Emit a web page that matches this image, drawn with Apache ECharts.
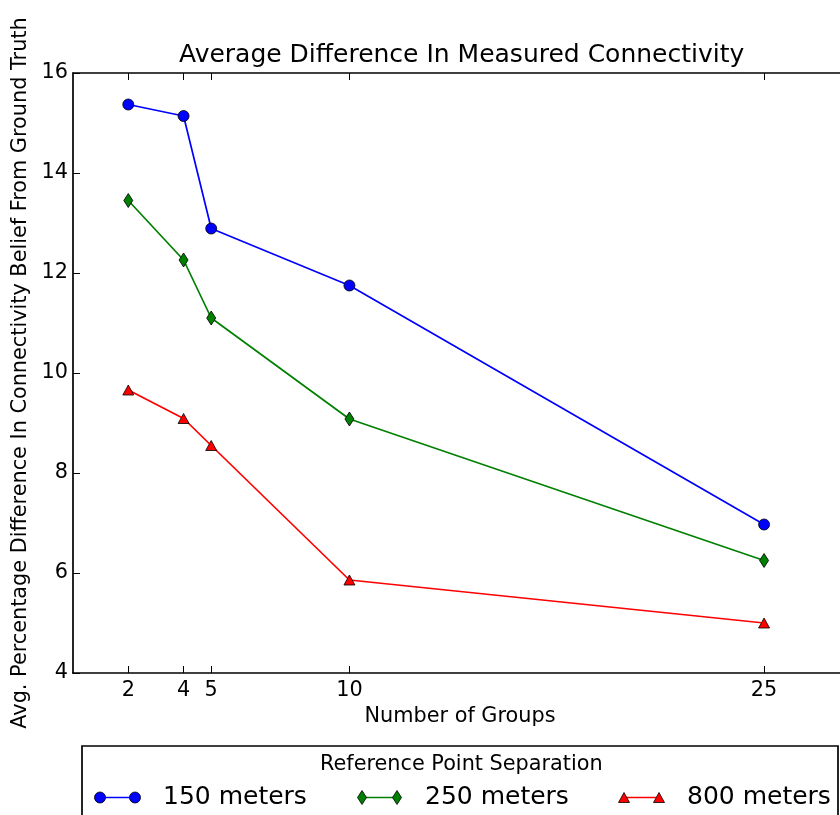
<!DOCTYPE html>
<html>
<head>
<meta charset="utf-8">
<script src="https://cdn.jsdelivr.net/npm/echarts@6/dist/echarts.min.js"></script>
<style>
html,body{margin:0;padding:0;background:#fff;}
#chart{width:840px;height:815px;}
</style>
</head>
<body>
<div id="chart"></div>
<script>
// ---- data ----
const groups = [2, 4, 5, 10, 25];
const xTickValues = [2, 4, 5, 10, 25];
const meters150 = [15.37, 15.14, 12.89, 11.75, 6.97];
const meters250 = [13.45, 12.26, 11.10, 9.08, 6.25];
const meters800 = [9.66, 9.09, 8.55, 5.86, 5.00];
const seriesNames = ['150 meters', '250 meters', '800 meters'];
const seriesColors = ['#0000ff', '#008000', '#ff0000'];
const yMin = 4, yMax = 16, yStep = 2;
const xMin = 0, xMax = 28;

const FONT = 'DejaVu Sans';
const BASE = 20.8;
const chart = echarts.init(document.getElementById('chart'), null, {renderer: 'canvas'});

function pairs(vals) { return groups.map((g, i) => [g, vals[i]]); }

const symbols = [
  {symbol: 'circle', size: 11},
  {symbol: 'diamond', size: [9, 14]},
  {symbol: 'triangle', size: [11, 10]}
];
const allVals = [meters150, meters250, meters800];

const series = allVals.map((vals, i) => ({
  name: seriesNames[i],
  type: 'line',
  data: pairs(vals),
  symbol: symbols[i].symbol,
  symbolSize: symbols[i].size,
  showAllSymbol: true,
  lineStyle: {color: seriesColors[i], width: 1.7},
  itemStyle: {color: seriesColors[i], borderColor: '#000', borderWidth: 0.8},
  emphasis: {disabled: true},
  animation: false,
  z: 3 + i
}));

const axisLineStyle = {color: '#000', width: 1.7};

// legend (drawn as graphics, matplotlib-style: line with a marker at each end)
const legendX0 = [100, 362, 624];
const legendY = 797.5;
const legendGraphics = [{
  type: 'rect',
  shape: {x: 82, y: 746, width: 756, height: 120},
  style: {fill: '#fff', stroke: '#000', lineWidth: 1.7},
  z: 10
}];
function markerGraphic(i, cx, cy) {
  const st = {fill: seriesColors[i], stroke: '#000', lineWidth: 0.8};
  if (i === 0) return {type: 'circle', shape: {cx: cx, cy: cy, r: 5.5}, style: st, z: 12};
  if (i === 1) return {type: 'polygon', shape: {points: [[cx, cy - 7], [cx + 4.5, cy], [cx, cy + 7], [cx - 4.5, cy]]}, style: st, z: 12};
  return {type: 'polygon', shape: {points: [[cx, cy - 5], [cx + 5.5, cy + 5], [cx - 5.5, cy + 5]]}, style: st, z: 12};
}
seriesNames.forEach((name, i) => {
  const x0 = legendX0[i];
  legendGraphics.push({
    type: 'line',
    shape: {x1: x0, y1: legendY, x2: x0 + 35, y2: legendY},
    style: {stroke: seriesColors[i], lineWidth: 1.7},
    z: 11
  });
  legendGraphics.push(markerGraphic(i, x0, legendY));
  legendGraphics.push(markerGraphic(i, x0 + 35, legendY));
  legendGraphics.push({
    type: 'text',
    x: x0 + 63, y: legendY,
    style: {text: name, fill: '#000', font: '25px "' + FONT + '"', textAlign: 'left', textVerticalAlign: 'middle'},
    z: 12
  });
});

const option = {
  backgroundColor: '#fff',
  animation: false,
  textStyle: {fontFamily: FONT},
  title: [
    {
      text: 'Average Difference In Measured Connectivity',
      left: 179, top: 43,
      textStyle: {fontFamily: FONT, fontSize: 25, fontWeight: 'normal', color: '#000'},
      padding: 0
    },
    {
      text: 'Reference Point Separation',
      left: 320, top: 754,
      textStyle: {fontFamily: FONT, fontSize: BASE, fontWeight: 'normal', color: '#000'},
      padding: 0,
      z: 20
    }
  ],
  grid: {left: 73, top: 73, width: 774, height: 600, containLabel: false, outerBoundsMode: 'none', show: false},
  xAxis: [
    {
      type: 'value', min: xMin, max: xMax, position: 'bottom',
      name: 'Number of Groups', nameLocation: 'middle', nameGap: 30,
      nameTextStyle: {fontFamily: FONT, fontSize: BASE, color: '#000'},
      axisLine: {show: true, onZero: false, lineStyle: axisLineStyle},
      axisTick: {show: true, inside: true, length: 7, customValues: xTickValues, lineStyle: {color: '#000', width: 1}},
      axisLabel: {show: true, customValues: xTickValues, fontFamily: FONT, fontSize: BASE, color: '#000', margin: 7},
      splitLine: {show: false}
    },
    {
      type: 'value', min: xMin, max: xMax, position: 'top',
      axisLine: {show: true, onZero: false, lineStyle: axisLineStyle},
      axisTick: {show: true, inside: true, length: 7, customValues: xTickValues, lineStyle: {color: '#000', width: 1}},
      axisLabel: {show: false},
      splitLine: {show: false}
    }
  ],
  yAxis: [
    {
      type: 'value', min: yMin, max: yMax, interval: yStep, position: 'left',
      name: 'Avg. Percentage Difference In Connectivity Belief From Ground Truth',
      nameLocation: 'middle', nameGap: 41,
      nameTextStyle: {fontFamily: FONT, fontSize: BASE, color: '#000'},
      axisLine: {show: true, onZero: false, lineStyle: axisLineStyle},
      axisTick: {show: true, inside: true, length: 7, lineStyle: {color: '#000', width: 1}},
      axisLabel: {show: true, fontFamily: FONT, fontSize: BASE, color: '#000', margin: 5},
      splitLine: {show: false}
    },
    {
      type: 'value', min: yMin, max: yMax, interval: yStep, position: 'right',
      axisLine: {show: true, onZero: false, lineStyle: axisLineStyle},
      axisTick: {show: true, inside: true, length: 7, lineStyle: {color: '#000', width: 1}},
      axisLabel: {show: false},
      splitLine: {show: false}
    }
  ],
  series: series,
  graphic: legendGraphics
};
chart.setOption(option);
</script>
</body>
</html>
